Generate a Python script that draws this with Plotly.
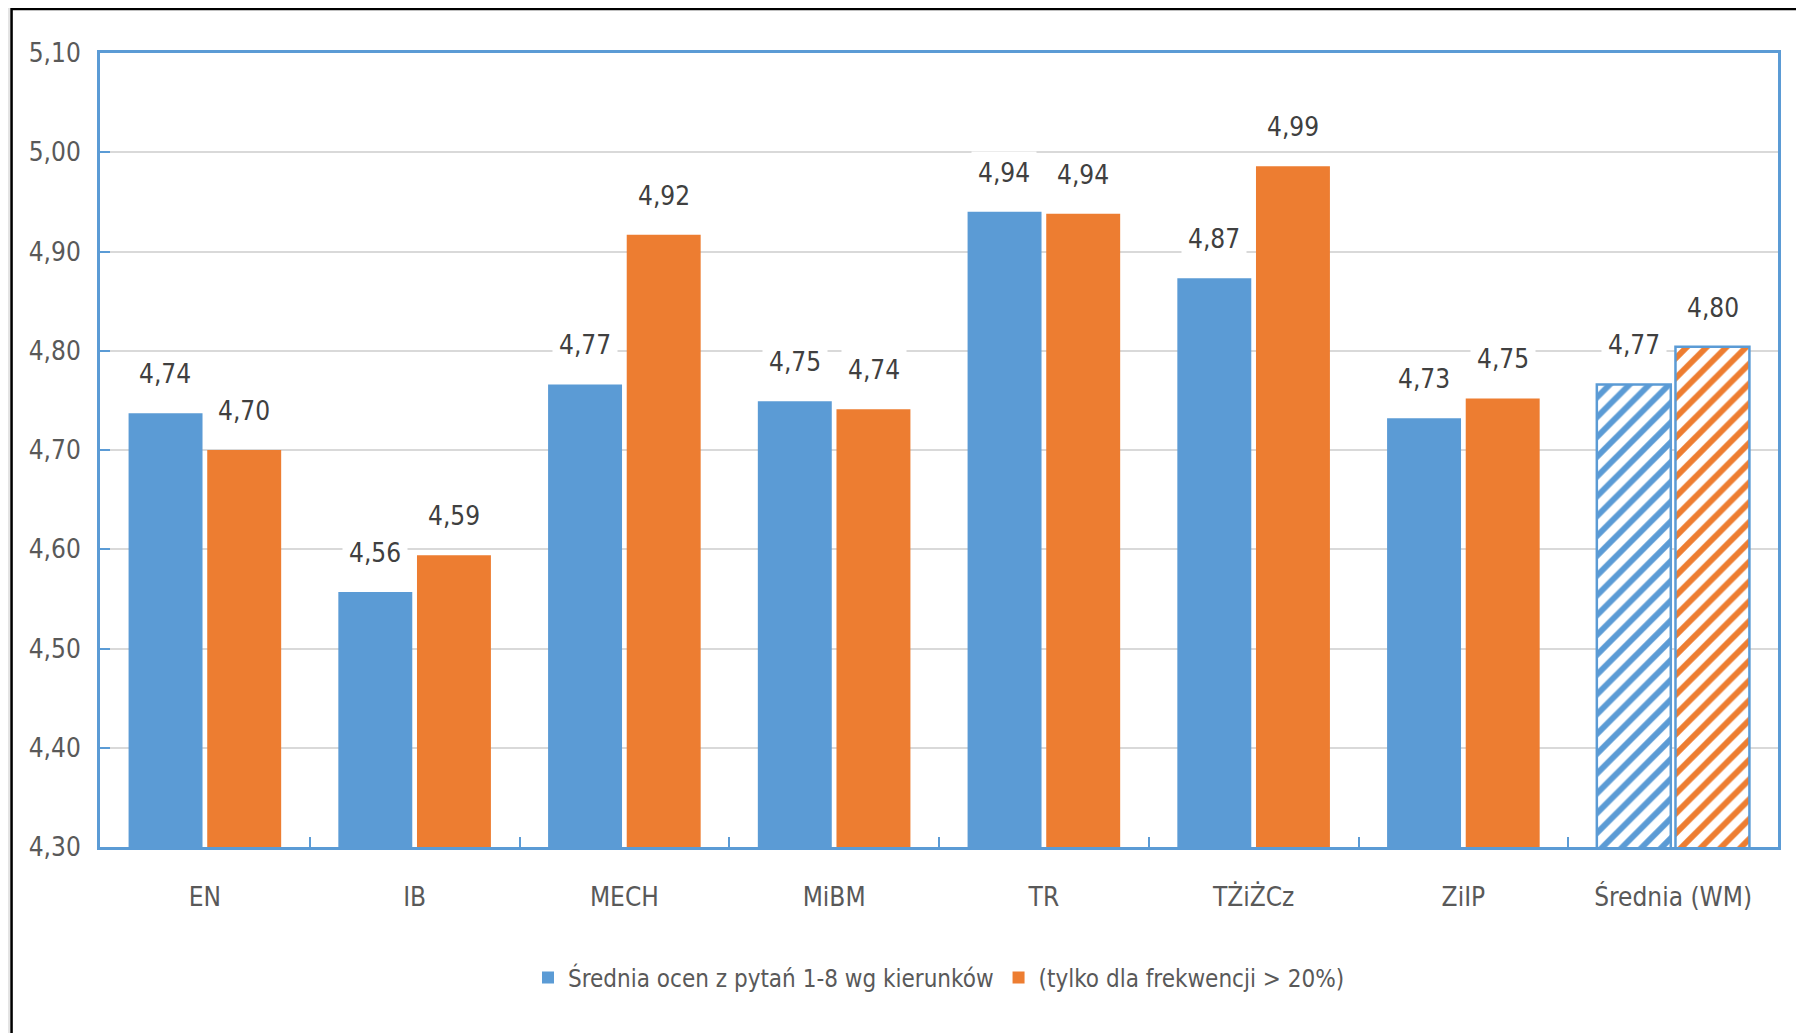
import plotly.graph_objects as go

categories = ["EN", "IB", "MECH", "MiBM", "TR", "TŻiŻCz", "ZiIP", "Średnia (WM)"]
series1_name = "Średnia ocen z pytań 1-8 wg kierunków"
series2_name = "(tylko dla frekwencji > 20%)"
series1 = [4.737, 4.557, 4.766, 4.749, 4.940, 4.873, 4.732, 4.766]
series2 = [4.700, 4.594, 4.917, 4.741, 4.938, 4.986, 4.752, 4.804]
y_ticks = [4.30, 4.40, 4.50, 4.60, 4.70, 4.80, 4.90, 5.00, 5.10]

BLUE = "#5b9bd5"
ORANGE = "#ed7d31"
FONT = "Liberation Sans Narrow, DejaVu Sans Condensed, Liberation Sans, sans-serif"
FS = 26

def fmt(v):
    return f"{v:.2f}".replace(".", ",")

n = len(categories)
shapes_pat = [""] * (n - 1) + ["/"]

fig = go.Figure()
for name, vals, col in [(series1_name, series1, BLUE), (series2_name, series2, ORANGE)]:
    fig.add_trace(go.Bar(
        name=name, x=categories, y=vals,
        marker=dict(
            color=col,
            line=dict(color=["rgba(0,0,0,0)"] * (n - 1) + [BLUE],
                      width=[0] * (n - 1) + [2.5]),
            pattern=dict(shape=shapes_pat, fgcolor=col, bgcolor="white",
                         size=14, solidity=0.42, fillmode="replace"),
        ),
        hoverinfo="skip",
    ))

# value labels as annotations with white background
for i, c in enumerate(categories):
    for j, vals in enumerate([series1, series2]):
        fig.add_annotation(
            x=c, y=vals[i], xref="x", yref="y",
            text=fmt(vals[i]), showarrow=False,
            xshift=(-1 if j == 0 else 1) * 39.5,
            yanchor="bottom", yshift=17,
            bgcolor="white", borderpad=6,
            font=dict(family=FONT, size=FS, color="#404040"),
        )

# outer frame of the picture
fig.add_shape(type="rect", xref="paper", yref="paper",
              x0=-0.0527, x1=1.05, y0=-0.3, y1=1.0554,
              fillcolor="white", line=dict(color="black", width=2.5),
              layer="below")

fig.update_layout(
    width=1796, height=1025,
    margin=dict(l=92, r=26, t=45, b=186),
    paper_bgcolor="#e4e4e4",
    plot_bgcolor="white",
    barmode="group", bargap=0.25, bargroupgap=0.06,
    font=dict(family=FONT, size=FS, color="#595959"),
    showlegend=True,
    legend=dict(orientation="h", x=0.5, xanchor="center", y=-0.165, yanchor="middle",
                font=dict(family=FONT, size=24, color="#595959"),
                bgcolor="rgba(0,0,0,0)", itemwidth=30, tracegroupgap=0,
                traceorder="normal"),
    xaxis=dict(
        type="category", showline=True, linecolor=BLUE, linewidth=3, mirror=True,
        ticks="inside", tickson="boundaries", ticklen=10, tickcolor=BLUE, tickwidth=2,
        showgrid=False, ticklabelstandoff=25,
        tickfont=dict(family=FONT, size=FS, color="#595959"),
    ),
    yaxis=dict(
        range=[4.30, 5.10], tickvals=y_ticks,
        ticktext=[fmt(v) for v in y_ticks],
        showline=True, linecolor=BLUE, linewidth=3, mirror=True,
        ticks="inside", ticklen=10, tickcolor=BLUE, tickwidth=2,
        showgrid=True, gridcolor="#d9d9d9", gridwidth=2,
        zeroline=False, ticklabelstandoff=11,
        tickfont=dict(family=FONT, size=FS, color="#595959"),
    ),
)

fig.write_html("out.html")
